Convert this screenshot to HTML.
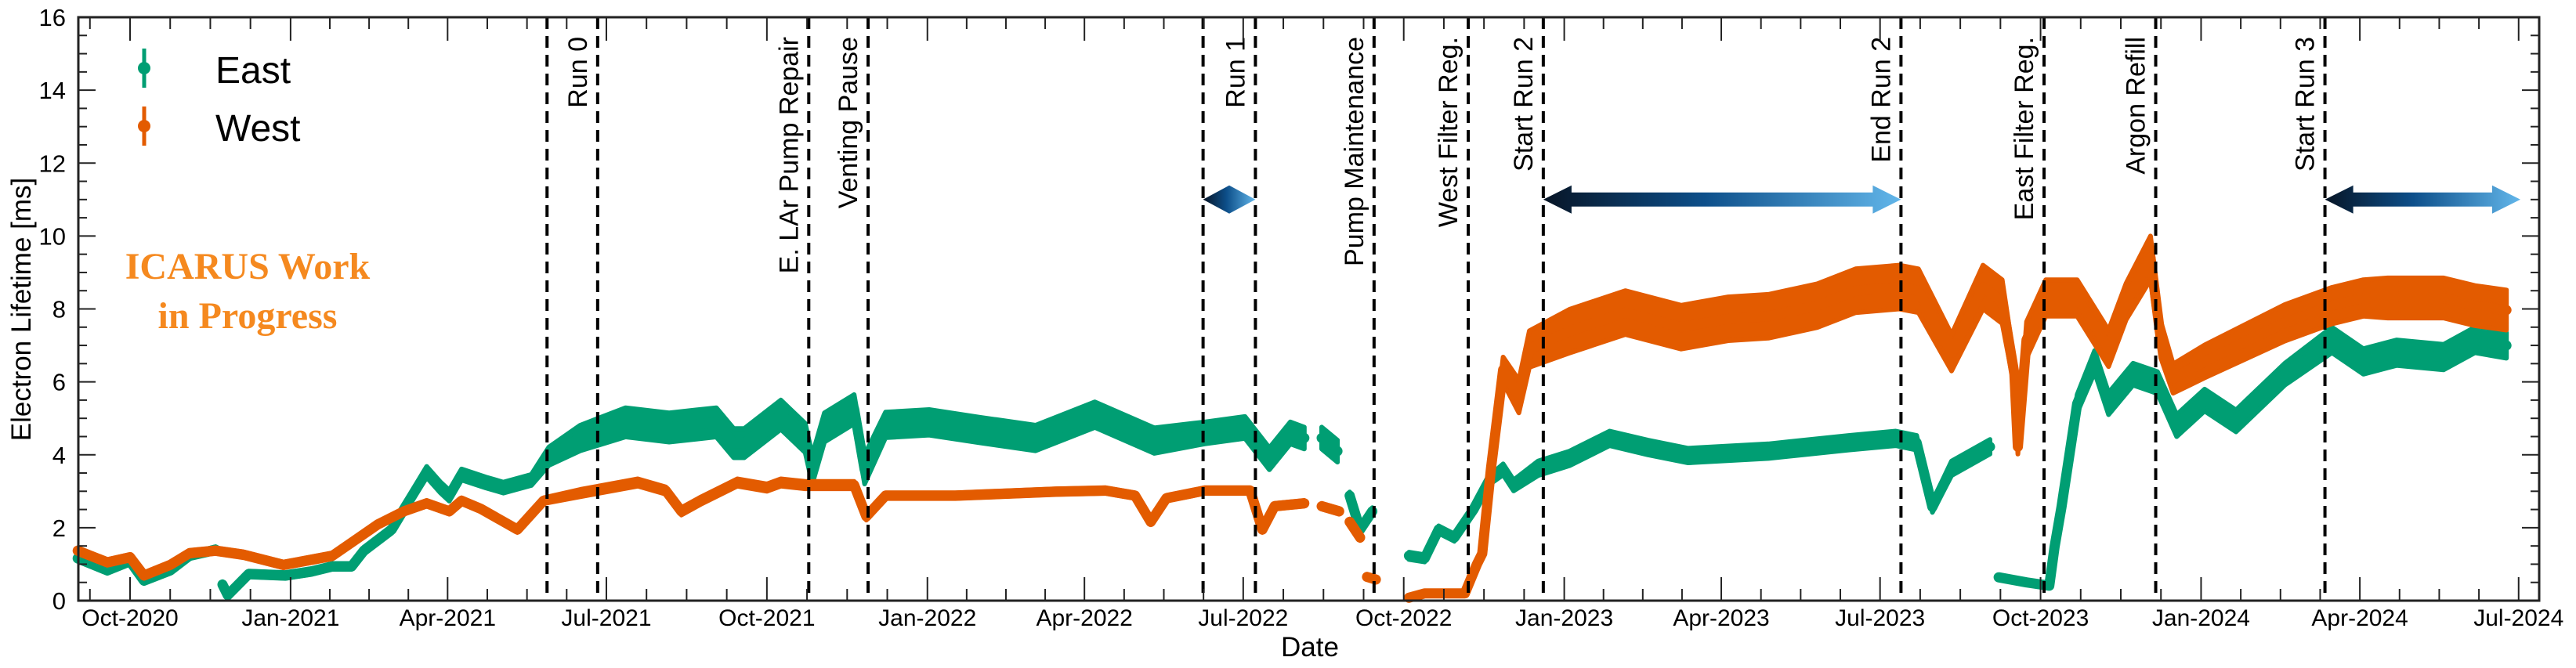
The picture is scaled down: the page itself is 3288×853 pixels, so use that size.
<!DOCTYPE html>
<html><head><meta charset="utf-8">
<style>
html,body{margin:0;padding:0;background:#fff;}
svg{display:block;font-family:"Liberation Sans",sans-serif;}
</style></head>
<body>
<svg id="chart" width="3288" height="853" viewBox="0 0 3288 853" xmlns="http://www.w3.org/2000/svg">
<defs>
<linearGradient id="arrowGrad" x1="0" x2="1" y1="0" y2="0">
<stop offset="0" stop-color="#071526"/><stop offset="0.45" stop-color="#0d4f8a"/><stop offset="1" stop-color="#62b6ea"/>
</linearGradient>
</defs>
<g id="grid"></g>
<g id="series"></g>
<g id="events"></g>
<g id="axes"></g>
<g id="legend">
  <line x1="184" y1="62" x2="184" y2="112" stroke="#009e73" stroke-width="5"/>
  <circle cx="184" cy="87" r="8" fill="#009e73"/>
  <text x="275" y="106" font-size="48" fill="#000">East</text>
  <line x1="184" y1="136" x2="184" y2="186" stroke="#e35b00" stroke-width="5"/>
  <circle cx="184" cy="161" r="8" fill="#e35b00"/>
  <text x="275" y="180" font-size="48" fill="#000">West</text>
</g>
<g font-family="Liberation Serif, serif" fill="#f5891f" font-size="48" font-weight="bold" text-anchor="middle">
  <text x="316" y="356">ICARUS Work</text>
  <text x="316" y="419">in Progress</text>
</g>
<text x="1672" y="838" font-size="35" text-anchor="middle">Date</text>
<text transform="translate(39,395) rotate(-90)" font-size="35" text-anchor="middle">Electron Lifetime [ms]</text>
</svg>
<script>
// ---- data (days since 2020-10-01) ----
const eastDays = [-30,-13,0,8,23,34,45,49,null,53,56,68,89,104,116,127,134,150,158,170,178,183,190,204,214,230,240,258,284,309,336,346,352,373,387,391,398,415,421,433,458,487,519,553,587,616,639,653,665,673,null,683,692,null,699,705,712,null,733,742,750,759,770,779,787,793,807,825,848,870,893,939,985,1012,1024,1033,1044,1066,null,1071,1087,1100,1103,1107,1116,1126,1134,1148,1162,1173,1189,1207,1235,1262,1280,1299,1326,1344,1362];
const eastVals = [1.16,0.83,1.08,0.55,0.83,1.23,1.35,1.40,null,0.44,0.15,0.73,0.69,0.80,0.94,0.94,1.37,1.95,2.59,3.53,3.10,2.88,3.46,3.24,3.10,3.31,3.96,4.46,4.89,4.75,4.89,4.32,4.32,5.10,4.46,3.60,4.75,5.25,3.60,4.82,4.89,4.68,4.46,5.10,4.39,4.60,4.75,3.89,4.60,4.46,null,4.46,4.10,null,2.88,1.95,2.45,null,1.23,1.16,1.95,1.73,2.50,3.30,3.60,3.16,3.63,3.90,4.45,4.20,3.98,4.10,4.33,4.45,4.33,2.57,3.63,4.22,null,0.64,0.50,0.41,1.47,2.57,5.40,6.56,5.40,6.21,5.98,4.80,5.50,4.93,6.21,7.15,6.56,6.80,6.68,7.15,7.00];
const eastSpread = [0.08,0.08,0.08,0.08,0.08,0.08,0.08,0.08,null,0.08,0.08,0.08,0.08,0.08,0.08,0.08,0.1,0.1,0.12,0.15,0.15,0.15,0.15,0.15,0.15,0.15,0.25,0.35,0.4,0.4,0.4,0.4,0.4,0.4,0.4,0.4,0.4,0.4,0.4,0.35,0.35,0.35,0.35,0.35,0.35,0.3,0.3,0.3,0.3,0.3,null,0.3,0.3,null,0.1,0.1,0.1,null,0.1,0.1,0.1,0.1,0.1,0.12,0.15,0.15,0.2,0.2,0.2,0.2,0.2,0.2,0.2,0.2,0.2,0.15,0.2,0.2,null,0.05,0.05,0.05,0.08,0.1,0.25,0.3,0.3,0.3,0.3,0.3,0.3,0.3,0.3,0.35,0.35,0.35,0.35,0.35,0.35];
const westDays = [-30,-13,0,8,23,34,49,65,88,116,129,142,157,170,183,190,201,222,237,258,291,307,316,327,348,365,373,387,415,422,433,473,531,559,576,585,594,616,642,649,656,673,null,683,693,null,699,705,null,709,714,null,733,742,765,772,775,780,787,796,802,825,857,889,916,939,967,989,1014,1025,1044,1062,1073,1080,1082,1087,1098,1116,1134,1144,1158,1164,1171,1189,1235,1262,1280,1294,1326,1344,1362];
const westVals = [1.37,1.05,1.19,0.69,0.98,1.30,1.37,1.26,0.98,1.23,1.66,2.09,2.45,2.67,2.45,2.74,2.52,1.95,2.74,2.95,3.24,3.02,2.45,2.74,3.24,3.10,3.24,3.17,3.17,2.31,2.88,2.88,2.99,3.02,2.88,2.16,2.81,3.02,3.02,1.95,2.59,2.67,null,2.59,2.45,null,2.16,1.73,null,0.65,0.58,null,0.08,0.20,0.20,1.00,1.29,3.63,6.33,5.60,6.90,7.39,7.90,7.50,7.73,7.80,8.09,8.50,8.60,8.50,6.80,8.60,8.20,6.21,4.22,7.15,8.30,8.30,6.92,8.20,9.40,7.15,6.09,6.56,7.62,8.09,8.30,8.30,8.30,8.09,7.97];
const westSpread = [0.08,0.08,0.08,0.08,0.08,0.08,0.08,0.08,0.08,0.08,0.08,0.08,0.08,0.08,0.08,0.08,0.08,0.08,0.08,0.1,0.1,0.1,0.1,0.1,0.1,0.1,0.1,0.1,0.1,0.1,0.08,0.08,0.08,0.08,0.08,0.08,0.08,0.08,0.08,0.08,0.08,0.08,null,0.08,0.08,null,0.08,0.08,null,0.05,0.05,null,0.05,0.05,0.05,0.05,0.1,0.2,0.35,0.45,0.5,0.6,0.6,0.6,0.6,0.6,0.6,0.6,0.6,0.6,0.5,0.6,0.6,0.35,0.2,0.5,0.5,0.5,0.5,0.5,0.6,0.5,0.4,0.45,0.5,0.5,0.5,0.55,0.55,0.55,0.55];
const eventDays = [239,268,389,423,615,645,713,767,810,1015,1097,1161,1258];
const eventLabels = ["","Run 0","E. LAr Pump Repair","Venting Pause","","Run 1","Pump Maintenance","West Filter Reg.","Start Run 2","End Run 2","East Filter Reg.","Argon Refill","Start Run 3"];
const runArrowStart = [615,810,1258];
const runArrowEnd = [645,1015,1370];
const runArrowValue = [11,11,11];
const yTicks = [0,2,4,6,8,10,12,14,16];
const xTickLabels = ["Oct-2020","Jan-2021","Apr-2021","Jul-2021","Oct-2021","Jan-2022","Apr-2022","Jul-2022","Oct-2022","Jan-2023","Apr-2023","Jul-2023","Oct-2023","Jan-2024","Apr-2024","Jul-2024"];
const xTickDays = [0,92,182,273,365,457,547,638,730,822,912,1003,1095,1187,1278,1369];

// ---- scales ----
const X0=100, X1=3241, Y0=767, Y1=22;
const xs = d => 166 + d*2.227;
const ys = v => Y0 - (v/16)*(Y0-Y1);
const NS="http://www.w3.org/2000/svg";
function mk(tag, attrs, parent){const e=document.createElementNS(NS,tag);for(const k in attrs)e.setAttribute(k,attrs[k]);parent.appendChild(e);return e;}

// ---- series ----
const sg=document.getElementById('series');
function drawSeries(days, vals, spread, color, name){
  let segs=[], cur=[];
  for(let i=0;i<days.length;i++){
    if(vals[i]===null||days[i]===null){ if(cur.length) segs.push(cur); cur=[]; }
    else cur.push([days[i],vals[i],spread[i]]);
  }
  if(cur.length) segs.push(cur);
  segs.forEach((s,k)=>{
    const up=s.map(p=>xs(p[0]).toFixed(1)+','+ys(p[1]+p[2]).toFixed(1));
    const lo=s.slice().reverse().map(p=>xs(p[0]).toFixed(1)+','+ys(p[1]-p[2]).toFixed(1));
    const band=mk('polygon',{points:up.concat(lo).join(' '),fill:color,stroke:color,'stroke-width':6,'stroke-linejoin':'round'},sg);
    
    
    const line=mk('polyline',{points:s.map(p=>xs(p[0]).toFixed(1)+','+ys(p[1]).toFixed(1)).join(' '),fill:'none',stroke:color,'stroke-width':13,'stroke-linejoin':'round','stroke-linecap':'round'},sg);
    
    
  });
}
drawSeries(eastDays,eastVals,eastSpread,'#009e73','east-series');
drawSeries(westDays,westVals,westSpread,'#e35b00','west-series');

// ---- events ----
const eg=document.getElementById('events');
eventDays.forEach((d,i)=>{
  const x=xs(d);
  const l=mk('line',{x1:x,y1:Y1,x2:x,y2:Y0,stroke:'#000','stroke-width':4,'stroke-dasharray':'15 9'},eg);
  
  
  if(eventLabels[i]){
    const t=mk('text',{transform:`translate(${(x-14).toFixed(1)},47) rotate(-90)`,'font-size':34,'text-anchor':'end'},eg);
    t.textContent=eventLabels[i];
    
    
  }
});
runArrowStart.forEach((d,i)=>{
  const xa=xs(d), xb=Math.min(xs(runArrowEnd[i]),X1+4), y=ys(runArrowValue[i]);
  const len=xb-xa, hl=Math.min(36,len/2), hh=18, sh=9;
  const pts=[[xa,y],[xa+hl,y-hh],[xa+hl,y-sh],[xb-hl,y-sh],[xb-hl,y-hh],[xb,y],[xb-hl,y+hh],[xb-hl,y+sh],[xa+hl,y+sh],[xa+hl,y+hh]];
  const a=mk('polygon',{points:pts.map(p=>p[0].toFixed(1)+','+p[1].toFixed(1)).join(' '),fill:'url(#arrowGrad)'},eg);
  
  
});

// ---- axes ----
const ag=document.getElementById('axes');
const fr=mk('rect',{x:X0,y:Y1,width:X1-X0,height:Y0-Y1,fill:'none',stroke:'#222','stroke-width':3},ag);


for(let v=0;v<=16.001;v+=0.5){
  const y=ys(v), major=Math.abs(v%2)<1e-6, L=major?22:11;
  mk('line',{x1:X0,y1:y,x2:X0+L,y2:y,stroke:'#222','stroke-width':2},ag);
  mk('line',{x1:X1,y1:y,x2:X1-L,y2:y,stroke:'#222','stroke-width':2},ag);
}
yTicks.forEach(v=>{
  const t=mk('text',{x:84,y:ys(v)+11,'font-size':31,'text-anchor':'end'},ag);
  t.textContent=v;
  
  
});
for(let q=-1;q<xTickDays.length;q++){
  const d0 = q<0 ? -92 : xTickDays[q];
  const d1 = q+1<xTickDays.length ? xTickDays[q+1] : d0+92;
  for(let k=0;k<4;k++){
    const d=d0+(d1-d0)*k/4, x=xs(d);
    if(x<X0+2||x>X1-2) continue;
    const L=k===0?30:15;
    mk('line',{x1:x,y1:Y0,x2:x,y2:Y0-L,stroke:'#222','stroke-width':2},ag);
    mk('line',{x1:x,y1:Y1,x2:x,y2:Y1+L,stroke:'#222','stroke-width':2},ag);
  }
}
xTickLabels.forEach((s,i)=>{
  const t=mk('text',{x:xs(xTickDays[i]),y:799,'font-size':30,'text-anchor':'middle'},ag);
  t.textContent=s;
  
  
});
</script>
</body></html>
